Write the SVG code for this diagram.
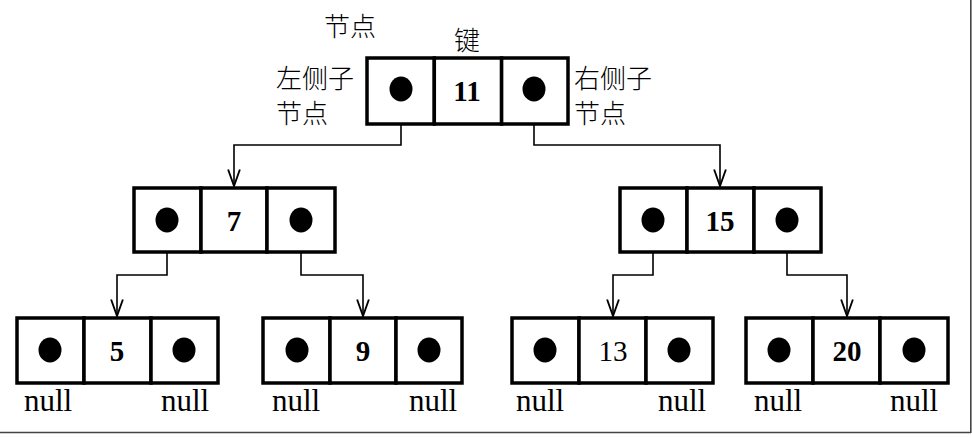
<svg xmlns="http://www.w3.org/2000/svg" width="972" height="438" viewBox="0 0 972 438">
<style>
.cell{fill:#fff;stroke:#000;stroke-width:3.5}
.dot{fill:#000}
.num{font-family:"Liberation Serif","Times New Roman",serif;font-size:29px;font-weight:bold;text-anchor:middle}
.nul{font-family:"Liberation Serif","Times New Roman",serif;font-size:31px}
.cn{font-family:"Noto Sans CJK SC","Noto Sans",sans-serif;font-size:26px;font-weight:300}
.link{fill:none;stroke:#000;stroke-width:1.6;marker-end:url(#arr)}
</style>
<defs>
<marker id="arr" markerUnits="userSpaceOnUse" markerWidth="20" markerHeight="20" viewBox="-15 -7 17 14" refX="0" refY="0" orient="auto">
<path d="M-14,-5 L0,0 L-14,5" fill="none" stroke="#000" stroke-width="1.6"/>
</marker>
</defs>
<rect width="972" height="438" fill="#fff"/>
<g id="frame" stroke="#444" stroke-width="1.6">
<line x1="0" y1="432.5" x2="971" y2="432.5"/>
<line x1="970.8" y1="0" x2="970.8" y2="433"/>
</g>
<g id="labels">
<text class="cn" x="324" y="36">节点</text>
<text class="cn" x="454" y="50">键</text>
<text class="cn" x="276" y="88">左侧子</text>
<text class="cn" x="276" y="123">节点</text>
<text class="cn" x="574" y="88">右侧子</text>
<text class="cn" x="574" y="123">节点</text>
</g>
<g id="connectors">
<path class="link" d="M401,89 V145 H234 V186"/>
<path class="link" d="M534,89 V145 H720 V186"/>
<path class="link" d="M167,220 V275 H117 V316"/>
<path class="link" d="M301,220 V275 H363 V316"/>
<path class="link" d="M653,220 V275 H613 V316"/>
<path class="link" d="M787,220 V275 H847 V316"/>
</g>
<g id="n11">
<rect class="cell" x="367" y="58" width="67.3" height="66"/>
<rect class="cell" x="434.3" y="58" width="67.3" height="66"/>
<rect class="cell" x="501.6" y="58" width="66.4" height="66"/>
<ellipse class="dot" cx="401" cy="89" rx="11.5" ry="12.5"/>
<ellipse class="dot" cx="534" cy="89" rx="11.5" ry="12.5"/>
<text class="num" x="467" y="101">11</text>
</g>
<g id="n7">
<rect class="cell" x="134" y="188" width="67" height="64"/>
<rect class="cell" x="201" y="188" width="66" height="64"/>
<rect class="cell" x="267" y="188" width="68" height="64"/>
<ellipse class="dot" cx="167" cy="220" rx="11.5" ry="12.5"/>
<ellipse class="dot" cx="301" cy="220" rx="11.5" ry="12.5"/>
<text class="num" x="234" y="231">7</text>
</g>
<g id="n15">
<rect class="cell" x="620" y="188" width="67" height="64"/>
<rect class="cell" x="687" y="188" width="67" height="64"/>
<rect class="cell" x="754" y="188" width="67" height="64"/>
<ellipse class="dot" cx="653" cy="220" rx="11.5" ry="12.5"/>
<ellipse class="dot" cx="787" cy="220" rx="11.5" ry="12.5"/>
<text class="num" x="720" y="231">15</text>
</g>
<g id="n5">
<rect class="cell" x="17" y="318" width="67" height="65"/>
<rect class="cell" x="84" y="318" width="67" height="65"/>
<rect class="cell" x="151" y="318" width="67" height="65"/>
<ellipse class="dot" cx="50" cy="350" rx="11.5" ry="12.5"/>
<ellipse class="dot" cx="184" cy="350" rx="11.5" ry="12.5"/>
<text class="num" x="117" y="361">5</text>
<text class="nul" x="24" y="411">null</text>
<text class="nul" x="161" y="411">null</text>
</g>
<g id="n9">
<rect class="cell" x="263" y="318" width="67" height="65"/>
<rect class="cell" x="330" y="318" width="66" height="65"/>
<rect class="cell" x="396" y="318" width="66" height="65"/>
<ellipse class="dot" cx="297" cy="350" rx="11.5" ry="12.5"/>
<ellipse class="dot" cx="429" cy="350" rx="11.5" ry="12.5"/>
<text class="num" x="363" y="361">9</text>
<text class="nul" x="272" y="411">null</text>
<text class="nul" x="409" y="411">null</text>
</g>
<g id="n13">
<rect class="cell" x="512" y="318" width="67" height="65"/>
<rect class="cell" x="579" y="318" width="67" height="65"/>
<rect class="cell" x="646" y="318" width="67" height="65"/>
<ellipse class="dot" cx="545" cy="350" rx="11.5" ry="12.5"/>
<ellipse class="dot" cx="679" cy="350" rx="11.5" ry="12.5"/>
<text class="num" x="613" y="361" style="font-weight:normal">13</text>
<text class="nul" x="516" y="411">null</text>
<text class="nul" x="658" y="411">null</text>
</g>
<g id="n20">
<rect class="cell" x="746" y="318" width="67" height="65"/>
<rect class="cell" x="813" y="318" width="67" height="65"/>
<rect class="cell" x="880" y="318" width="68" height="65"/>
<ellipse class="dot" cx="779" cy="350" rx="11.5" ry="12.5"/>
<ellipse class="dot" cx="914" cy="350" rx="11.5" ry="12.5"/>
<text class="num" x="847" y="361">20</text>
<text class="nul" x="754" y="411">null</text>
<text class="nul" x="890" y="411">null</text>
</g>
</svg>
